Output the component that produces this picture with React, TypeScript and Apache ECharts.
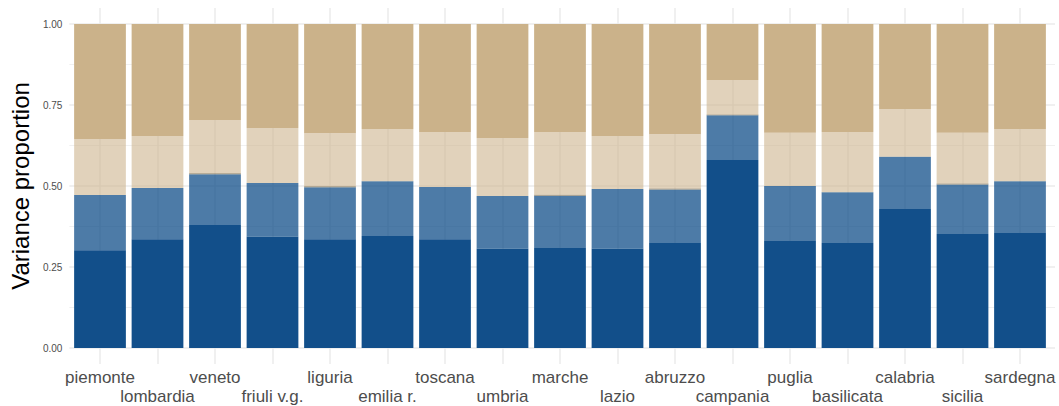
import React, { useEffect, useRef } from "react";
import * as echarts from "echarts";

const regions = [
  "piemonte", "lombardia", "veneto", "friuli v.g.", "liguria", "emilia r.",
  "toscana", "umbria", "marche", "lazio", "abruzzo", "campania", "puglia",
  "basilicata", "calabria", "sicilia", "sardegna",
];

const comp1 = [0.302, 0.336, 0.380, 0.343, 0.336, 0.346, 0.336, 0.306, 0.309, 0.306, 0.324, 0.580, 0.330, 0.324, 0.429, 0.352, 0.355];
const comp2 = [0.170, 0.158, 0.156, 0.166, 0.160, 0.169, 0.161, 0.163, 0.161, 0.185, 0.165, 0.138, 0.170, 0.157, 0.161, 0.153, 0.160];
const comp3 = [0, 0, 0.003, 0, 0.003, 0, 0, 0, 0.003, 0, 0.003, 0.003, 0, 0, 0, 0.003, 0];
const comp4 = [0.173, 0.160, 0.165, 0.170, 0.164, 0.161, 0.170, 0.179, 0.194, 0.163, 0.168, 0.106, 0.164, 0.186, 0.148, 0.156, 0.161];
const comp5 = [0.355, 0.346, 0.296, 0.321, 0.337, 0.324, 0.333, 0.352, 0.333, 0.346, 0.340, 0.173, 0.336, 0.333, 0.262, 0.336, 0.324];

const yTicks = [0, 0.25, 0.5, 0.75, 1];

const FONT = "'Liberation Sans', Arial, Helvetica, sans-serif";

export default function App() {
  const ref = useRef<HTMLDivElement>(null);
  useEffect(() => {
    document.body.style.margin = "0";
    const chart = echarts.init(ref.current!, null, { renderer: "svg" });
    const mk = (name: string, data: number[], color: string, opacity: number) => ({
      name,
      type: "bar",
      stack: "v",
      xAxisIndex: 2,
      yAxisIndex: 2,
      barCategoryGap: "10%",
      data,
      itemStyle: { color, opacity },
      emphasis: { disabled: true },
    });
    chart.setOption({
      animation: false,
      textStyle: { fontFamily: FONT },
      grid: [
        { left: 65, right: 4, top: 24, bottom: 58 },
        { left: 100, width: 920, top: 8, bottom: 42 },
        { left: 71.25, width: 977.5, top: 24, bottom: 58 },
      ],
      xAxis: [
        { gridIndex: 0, type: "value", show: false },
        {
          gridIndex: 1, type: "value", min: 0, max: regions.length - 1, interval: 1,
          axisLine: { show: false }, axisTick: { show: false }, axisLabel: { show: false },
          splitLine: { show: true, lineStyle: { color: "#EBEBEB", width: 1.5 } },
        },
        {
          gridIndex: 2, type: "category", data: regions,
          axisLine: { show: false }, axisTick: { show: false },
          axisLabel: {
            interval: 0, fontSize: 17, color: "#4D4D4D", lineHeight: 19, margin: 20,
            fontFamily: FONT,
            formatter: (v: string, i: number) => (i % 2 === 1 ? "\n" + v : v),
          },
        },
      ],
      yAxis: [
        {
          gridIndex: 0, type: "value", min: yTicks[0], max: yTicks[yTicks.length - 1], interval: 0.25,
          axisLine: { show: false }, axisTick: { show: false },
          axisLabel: { fontSize: 10, color: "#4D4D4D", margin: 7, formatter: (v: number) => v.toFixed(2), fontFamily: FONT },
          splitLine: { show: true, lineStyle: { color: "#EBEBEB", width: 1.5 } },
          minorTick: { show: false, splitNumber: 2 },
          minorSplitLine: { show: true, lineStyle: { color: "#EBEBEB", width: 0.75 } },
          name: "Variance proportion", nameLocation: "middle", nameGap: 30,
          nameTextStyle: { fontSize: 24, color: "#000000", fontFamily: FONT },
        },
        { gridIndex: 1, type: "value", show: false },
        { gridIndex: 2, type: "value", min: 0, max: 1, show: false, splitLine: { show: false } },
      ],
      series: [
        mk("c1", comp1, "#124F8A", 1),
        mk("c2", comp2, "#124F8A", 0.75),
        mk("c3", comp3, "#9A8F7A", 1),
        mk("c4", comp4, "#CBB28A", 0.58),
        mk("c5", comp5, "#CBB28A", 1),
      ],
    });
    return () => chart.dispose();
  }, []);
  return <div ref={ref} style={{ width: 1059, height: 406 }} />;
}
